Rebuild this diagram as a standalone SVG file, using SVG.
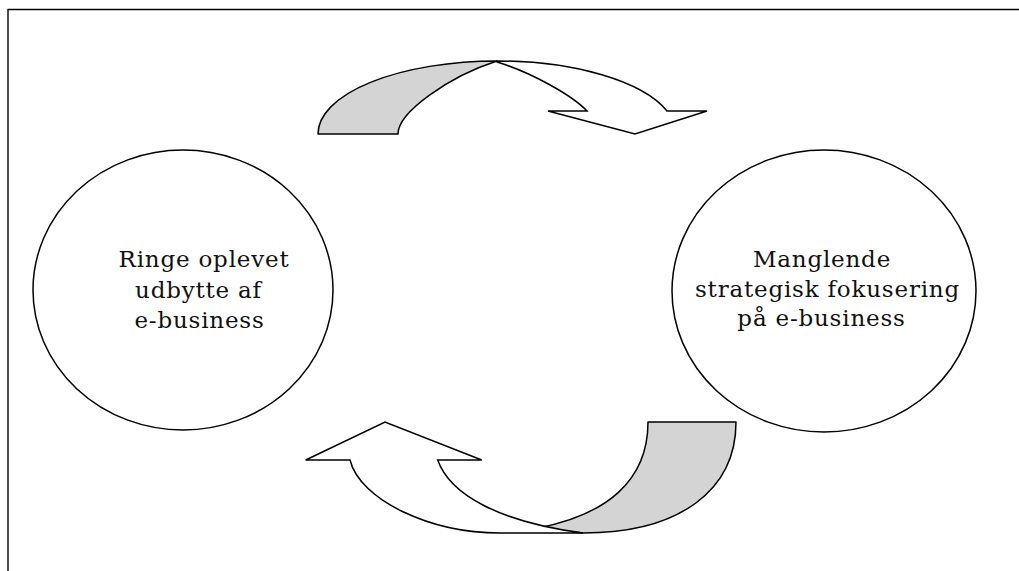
<svg xmlns="http://www.w3.org/2000/svg" width="1019" height="571" viewBox="0 0 1019 571">
<style>
.frame{fill:none;stroke:#000;stroke-width:1.4}
.node{fill:#fff;stroke:#000;stroke-width:1.5}
.back{fill:#d4d4d4;stroke:#000;stroke-width:1.5;stroke-linejoin:round}
.front{fill:#fff;stroke:#000;stroke-width:1.5;stroke-linejoin:miter}
.lbl{font-family:"DejaVu Serif",serif;font-size:23px;letter-spacing:0.8px;fill:#111;text-anchor:middle}
</style>
<rect width="1019" height="571" fill="#fff"/>
<path class="frame" d="M8,571 L8,9.5 L1019,9.5"/>
<g id="node-left">
<ellipse class="node" cx="183" cy="290" rx="150" ry="140"/>
<text class="lbl"><tspan x="204" y="267">Ringe oplevet</tspan><tspan x="198.5" y="297.5">udbytte af</tspan><tspan x="199.5" y="328">e-business</tspan></text>
</g>
<g id="node-right">
<ellipse class="node" cx="824" cy="291" rx="152" ry="141"/>
<text class="lbl"><tspan x="822" y="267">Manglende</tspan><tspan x="827.5" y="297">strategisk fokusering</tspan><tspan x="821.5" y="326">på e-business</tspan></text>
</g>
<g id="connectors">
<g id="arrow-top">
<path class="back" d="M318,134 A179,73 0 0 1 497,61 C450,76 398,112 398,134 Z"/>
<path class="front" d="M497,61 A179,73 0 0 1 667,111 L707,111 L635,134 L548,111 L587,111 C572,95 530,72 497,62 Z"/>
</g>
<g id="arrow-bottom">
<path class="back" d="M648,422 L736,422 C736,490 680,533 583,533 L538,528 C605,515 648,482 648,422 Z"/>
<path class="front" d="M583,533 L500,533 C430,533 360,500 350,460 L305.7,460 L385,422 L481.7,460 L437.7,460 C450,495 500,522 583,533 Z"/>
</g>
</g>
</svg>
